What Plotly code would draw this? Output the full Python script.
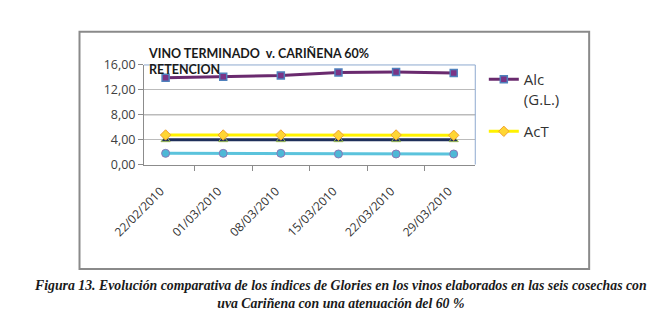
import plotly.graph_objects as go

dates = ["22/02/2010", "01/03/2010", "08/03/2010", "15/03/2010", "22/03/2010", "29/03/2010"]
alc = [13.95, 14.1, 14.3, 14.8, 14.85, 14.7]
act = [4.75, 4.75, 4.75, 4.7, 4.75, 4.7]
serie3 = [4.0, 4.0, 4.0, 4.0, 4.0, 4.0]
serie4 = [1.8, 1.8, 1.8, 1.7, 1.7, 1.7]

y_ticks = [0, 4, 8, 12, 16]

W, H = 648, 330
def px(x): return x / W
def py(y): return 1 - y / H

fig = go.Figure()

fig.add_trace(go.Scatter(
    x=dates, y=serie4, mode="lines+markers", showlegend=False,
    line=dict(color="#5BC3DC", width=3),
    marker=dict(symbol="circle", size=8, color="#4DB8D6", line=dict(color="#8A78B8", width=1)),
))
fig.add_trace(go.Scatter(
    x=dates, y=serie3, mode="lines+markers", showlegend=False,
    line=dict(color="#1F2F5A", width=3),
    marker=dict(symbol="triangle-up", size=8, color="#1F2F5A", line=dict(color="#9BBB59", width=1)),
))
fig.add_trace(go.Scatter(
    x=dates, y=alc, mode="lines+markers", name="Alc<br>(G.L.)", legendgroup="a",
    line=dict(color="#6A2A6E", width=3),
    marker=dict(symbol="square", size=7, color="#7A3486", line=dict(color="#4F81BD", width=1.5)),
))
fig.add_trace(go.Scatter(
    x=dates, y=act, mode="lines+markers", name="AcT", legendgroup="b",
    line=dict(color="#FFF200", width=3),
    marker=dict(symbol="diamond", size=8, color="#FFD633", line=dict(color="#F0A030", width=1)),
))

x0d, x1d = px(117), px(466)
y0d, y1d = py(164), py(59)

fig.update_layout(
    width=W, height=H,
    margin=dict(l=0, r=0, t=0, b=0),
    paper_bgcolor="white", plot_bgcolor="white",
    separators=",.",
    showlegend=True,
    legend=dict(
        x=px(475), y=py(57), xanchor="left", yanchor="top",
        font=dict(family="Open Sans", size=15, color="#333333"),
        traceorder="grouped", valign="top",
        tracegroupgap=10, bgcolor="rgba(0,0,0,0)",
    ),
    xaxis=dict(
        domain=[x0d, x1d], type="category",
        showline=True, linecolor="#8C8C8C", linewidth=1,
        ticks="outside", ticklen=5, tickcolor="#8C8C8C", tickson="boundaries",
        tickangle=-45, showgrid=False, ticklabelstandoff=14, ticklabelshift=-5,
        tickfont=dict(family="Open Sans", size=12, color="#333333"),
    ),
    yaxis=dict(
        domain=[y0d, y1d], range=[0, 16], tickvals=y_ticks, tickformat=".2f",
        showline=True, linecolor="#8C8C8C", linewidth=1,
        ticks="outside", ticklen=5, tickcolor="#8C8C8C",
        showgrid=True, gridcolor="#BBBBBB", gridwidth=1, zeroline=False,
        tickfont=dict(family="Open Sans", size=12.5, color="#404040"),
    ),
    shapes=[
        dict(type="rect", xref="paper", yref="paper", x0=px(49), x1=px(586), y0=py(274), y1=py(24),
             line=dict(color="#8A8A8A", width=2), layer="below"),
        dict(type="line", xref="paper", yref="paper", x0=x0d, x1=x1d, y0=y1d, y1=y1d,
             line=dict(color="#8EA9CF", width=1)),
        dict(type="line", xref="paper", yref="paper", x0=x1d, x1=x1d, y0=y0d, y1=y1d,
             line=dict(color="#8EA9CF", width=1)),
        dict(type="line", xref="paper", yref="y", x0=x0d, x1=x1d, y0=y_ticks[2], y1=y_ticks[2],
             line=dict(color="#777777", width=1), layer="below"),
    ],
    annotations=[
        dict(text="<b>VINO TERMINADO  v. CARIÑENA 60%<br>RETENCION</b>", xref="paper", yref="paper",
             x=px(119), y=py(37), xanchor="left", yanchor="top", align="left", showarrow=False,
             font=dict(family="Lato", size=12.5, color="#1A1A1A")),
        dict(text="<b><i>Figura 13. Evolución comparativa de los índices de Glories en los vinos elaborados en las seis cosechas con<br>uva Cariñena con una atenuación del 60 %</i></b>",
             xref="paper", yref="paper", x=0.5, y=py(281), xanchor="center", yanchor="top", align="center",
             showarrow=False, font=dict(family="Liberation Serif", size=13.8, color="#1A1A1A")),
    ],
)

fig.write_html("out.html")
